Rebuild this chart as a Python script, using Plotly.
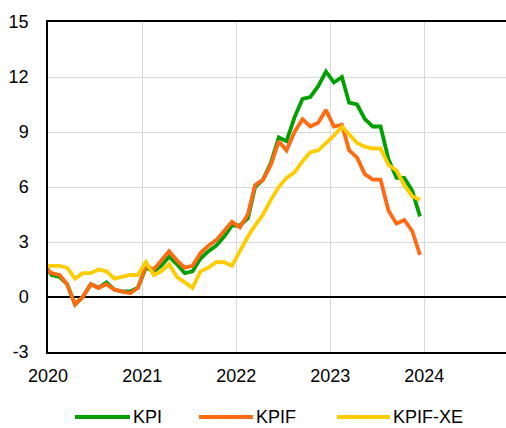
import pandas as pd
import plotly.graph_objects as go

# Annual inflation rate, per cent, monthly from Dec 2019 to Dec 2023
months = pd.date_range("2019-12-01", "2023-12-01", freq="MS")

kpi = [1.8,
       1.2, 1.1, 0.7, -0.4, 0.0, 0.7, 0.5, 0.8, 0.4, 0.3, 0.3, 0.5,
       1.6, 1.4, 1.7, 2.2, 1.8, 1.3, 1.4, 2.1, 2.5, 2.8, 3.3, 3.9,
       3.9, 4.3, 6.0, 6.4, 7.3, 8.7, 8.5, 9.8, 10.8, 10.9, 11.5, 12.3,
       11.7, 12.0, 10.6, 10.5, 9.7, 9.3, 9.3, 7.5, 6.5, 6.5, 5.8, 4.4]

kpif = [1.7,
        1.3, 1.2, 0.7, -0.4, 0.0, 0.7, 0.5, 0.7, 0.4, 0.3, 0.2, 0.5,
        1.7, 1.5, 2.0, 2.5, 2.0, 1.6, 1.7, 2.4, 2.8, 3.1, 3.6, 4.1,
        3.8, 4.5, 6.1, 6.4, 7.2, 8.5, 8.0, 9.0, 9.7, 9.3, 9.5, 10.2,
        9.3, 9.4, 8.0, 7.6, 6.7, 6.4, 6.4, 4.7, 4.0, 4.2, 3.6, 2.3]

kpif_xe = [1.7,
           1.7, 1.7, 1.6, 1.0, 1.3, 1.3, 1.5, 1.4, 1.0, 1.1, 1.2, 1.2,
           1.9, 1.2, 1.4, 1.8, 1.1, 0.8, 0.5, 1.4, 1.6, 1.9, 1.9, 1.7,
           2.5, 3.3, 3.9, 4.5, 5.3, 6.0, 6.5, 6.8, 7.4, 7.9, 8.0, 8.4,
           8.8, 9.3, 8.9, 8.4, 8.2, 8.1, 8.1, 7.2, 6.9, 6.1, 5.5, 5.3]

series_names = ["KPI", "KPIF", "KPIF-XE"]
series_values = [kpi, kpif, kpif_xe]
series_colors = ["#00A000", "#FF6A13", "#FFCC00"]

year_labels = ["2020", "2021", "2022", "2023", "2024"]
y_ticks = [-3, 0, 3, 6, 9, 12, 15]

# monthly observations sit in the middle of each month
x_dates = months + pd.Timedelta(days=14)

W, H = 506, 428
M_L, M_R, M_T, M_B = 48, 0, 22, 76
FONT = "Liberation Sans, Arial, sans-serif"

fig = go.Figure()
for name, vals, col in zip(series_names, series_values, series_colors):
    fig.add_trace(go.Scatter(
        x=x_dates, y=vals, name=name, mode="lines",
        line=dict(color=col, width=3.8),
        showlegend=False,
    ))

fig.update_layout(
    width=W, height=H,
    margin=dict(l=M_L, r=M_R, t=M_T, b=M_B, pad=0),
    paper_bgcolor="white", plot_bgcolor="white",
    font=dict(family=FONT, size=18, color="black"),
    xaxis=dict(
        type="date",
        range=["2020-01-01", "2024-11-13"],
        tickvals=[f"{y}-01-01" for y in year_labels],
        ticktext=year_labels,
        ticks="", ticklabelstandoff=7,
        showgrid=True, gridcolor="#d9d9d9", gridwidth=1,
        showline=True, linecolor="black", linewidth=1.5, mirror=True,
        zeroline=False,
    ),
    yaxis=dict(
        range=[-3, 15],
        tickvals=y_ticks,
        ticktext=[str(v) for v in y_ticks],
        ticks="", ticklabelstandoff=14,
        showgrid=True, gridcolor="#d9d9d9", gridwidth=1,
        showline=True, linecolor="black", linewidth=1.5, mirror=False,
        zeroline=True, zerolinecolor="black", zerolinewidth=1.5,
    ),
)

# Legend below the plot: a coloured key line followed by the series name
plot_w = W - M_L - M_R
plot_h = H - M_T - M_B


def px_x(px):
    return (px - M_L) / plot_w


def px_y(py):
    return (H - M_B - py) / plot_h


legend_y = 417
legend_keys = [(75, 130), (199, 253), (337, 390)]
for (x0, x1), name, col in zip(legend_keys, series_names, series_colors):
    fig.add_shape(type="line", xref="paper", yref="paper",
                  x0=px_x(x0), x1=px_x(x1), y0=px_y(legend_y), y1=px_y(legend_y),
                  line=dict(color=col, width=4))
    fig.add_annotation(xref="paper", yref="paper", x=px_x(x1 + 2), y=px_y(legend_y),
                       text=name, showarrow=False, xanchor="left", yanchor="middle",
                       borderpad=0,
                       font=dict(family=FONT, size=18, color="black"))

fig.write_html("out.html")
